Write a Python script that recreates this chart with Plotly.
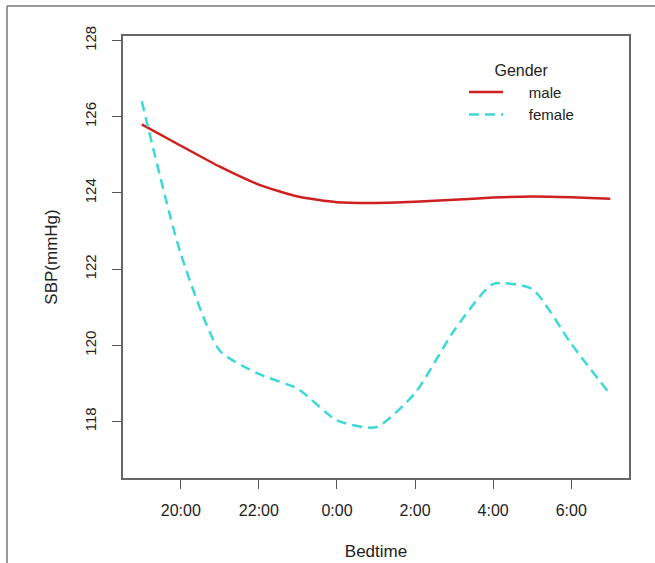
import plotly.graph_objects as go

hours = [19, 20, 21, 22, 23, 24, 25, 26, 27, 28, 29, 30, 31]
male = [125.80, 125.24, 124.69, 124.22, 123.91, 123.76, 123.74, 123.77, 123.82, 123.88, 123.91, 123.89, 123.85]
female = [126.41, 122.40, 119.86, 119.25, 118.86, 118.03, 117.85, 118.75, 120.39, 121.61, 121.48, 120.04, 118.71]
tick_vals = [20, 22, 24, 26, 28, 30]
tick_text = ["20:00", "22:00", "0:00", "2:00", "4:00", "6:00"]
y_ticks = [118, 120, 122, 124, 126, 128]

NB = "\u00a0" * 5
FONT = "Liberation Sans, Arial, Helvetica, sans-serif"

fig = go.Figure()
fig.add_trace(go.Scatter(x=hours, y=male, mode="lines", name=NB + "male",
                         line=dict(color="#d01f1f", width=2.5, shape="spline", smoothing=0.6)))
fig.add_trace(go.Scatter(x=hours, y=female, mode="lines", name=NB + "female",
                         line=dict(color="#3fd8d8", width=2.5, dash="10px,6px", shape="spline", smoothing=0.6)))

L, R, T, B = 123, 26, 36, 85
W, H = 655, 563
pw, ph = W - L - R, H - T - B

def px(x):
    return (x - L) / pw

def py(y):
    return (H - B - y) / ph

fig.update_layout(
    width=W, height=H,
    margin=dict(l=L, r=R, t=T, b=B),
    plot_bgcolor="white", paper_bgcolor="white",
    font=dict(family=FONT, color="#222222", size=16),
    showlegend=True,
    legend=dict(
        title=dict(text="Gender", side="top center", font=dict(size=16)),
        x=px(464), y=py(55), xanchor="left", yanchor="top",
        bgcolor="rgba(0,0,0,0)", font=dict(size=15), tracegroupgap=0,
        itemwidth=34,
    ),
    xaxis=dict(
        range=[18.52, 31.48], tickmode="array", tickvals=tick_vals, ticktext=tick_text,
        showgrid=False, zeroline=False, showline=True, mirror=True, automargin=False,
        linecolor="#666666", linewidth=1.5, ticks="outside", ticklen=9, tickwidth=1.2,
        tickcolor="#555555", tickfont=dict(size=16), ticklabelstandoff=8,
        title=dict(text="Bedtime", font=dict(size=17), standoff=27),
    ),
    yaxis=dict(
        range=[116.52, 128.12], tickmode="array", tickvals=y_ticks,
        showgrid=False, zeroline=False, showline=True, mirror=True, automargin=False,
        linecolor="#666666", linewidth=1.5, ticks="outside", ticklen=9, tickwidth=1.2,
        tickcolor="#555555", tickfont=dict(size=15), tickangle=-90,
        ticklabelstandoff=10,
        title=dict(text="SBP(mmHg)", font=dict(size=17), standoff=20),
    ),
    shapes=[
        dict(type="line", xref="paper", yref="paper", x0=px(7), x1=px(660), y0=py(6), y1=py(6),
             line=dict(color="#777777", width=1.5)),
        dict(type="line", xref="paper", yref="paper", x0=px(7), x1=px(7), y0=py(6), y1=py(570),
             line=dict(color="#777777", width=1.5)),
    ],
)

fig.write_html("out.html", config={"displayModeBar": False},
               post_script="document.body.style.margin='0';document.body.style.overflow='hidden';")
